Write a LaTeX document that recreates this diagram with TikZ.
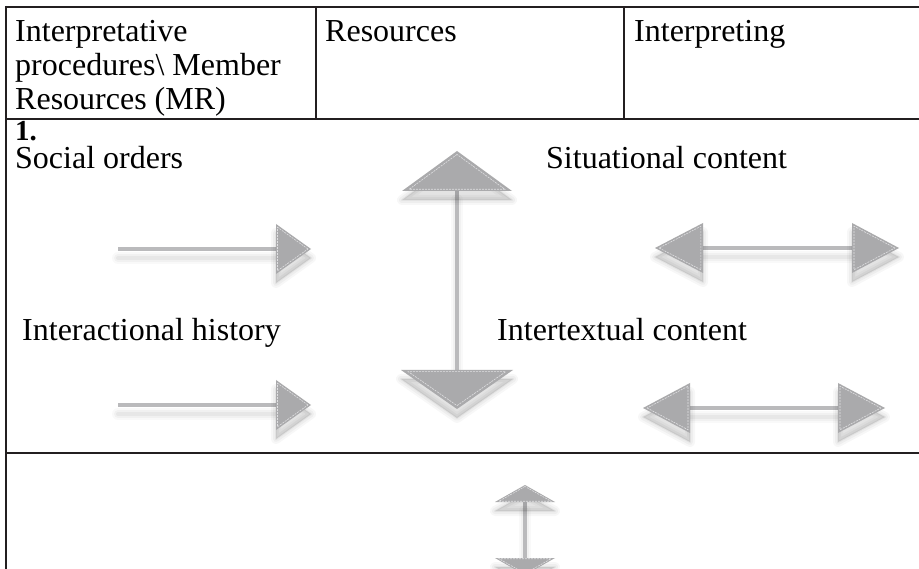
\documentclass[tikz,border=0pt]{standalone}
\usepackage{fontspec}
\setmainfont{Liberation Serif}
\usetikzlibrary{calc}
\definecolor{rulec}{RGB}{35,31,32}
\definecolor{headgray}{RGB}{170,170,172}
\definecolor{shaftgray}{RGB}{186,186,188}
\definecolor{dashgray}{RGB}{224,224,226}
\tikzset{
  rulel/.style={draw=rulec, line width=2.4pt},
  lbl/.style={anchor=base west, inner sep=0pt, text=black, font=\fontsize{32}{36}\selectfont},
  shaftl/.style={draw=shaftgray, line width=4pt},
  shadl/.style={draw=black, line cap=round, line join=round, transform canvas={yshift=-9pt}},
}
\newcommand\ahd[3]{%
  \coordinate (hl) at ($(#2)!#3!90:(#1)$);
  \coordinate (hr) at ($(#2)!#3!-90:(#1)$);
  \coordinate (hc) at ($1/3*(#1)+1/3*(hl)+1/3*(hr)$);
  \foreach \w/\o in {10/0.03,6/0.035,2/0.045}{%
    \filldraw[shadl, fill=black, opacity=\o, line width=\w pt] (#1)--(hl)--(hr)--cycle;}
  \fill[headgray] (#1)--(hl)--(hr)--cycle;
  \draw[dashgray, line width=0.6pt, dash pattern=on 2pt off 1pt]
    ($(#1)!0.13!(hc)$)--($(hl)!0.13!(hc)$)--($(hr)!0.13!(hc)$)--cycle;
}
\newcommand\shft[2]{%
  \foreach \w/\o in {12/0.025,8/0.03,4/0.04}{%
    \draw[shadl, opacity=\o, line width=\w pt] (#1)--(#2);}
  \draw[shaftl] (#1)--(#2);
}
\begin{document}
\begin{tikzpicture}[x=1pt,y=-1pt]
\useasboundingbox (0,0) rectangle (919,569);
\clip (0,0) rectangle (919,569);
\fill[white] (0,0) rectangle (919,569);
% table rules
\draw[rulel] (6,7) -- (925,7);
\draw[rulel] (6,5.8) -- (6,575);
\draw[rulel] (316,7) -- (316,119);
\draw[rulel] (624,7) -- (624,119);
\draw[rulel] (6,119) -- (925,119);
\draw[rulel] (6,453) -- (925,453);
% header texts
\node[lbl] (h1a) at (15,42) {Interpretative};
\node[lbl] (h1b) at (15,76) {procedures\textbackslash{} Member};
\node[lbl] (h1c) at (15,110) {Resources (MR)};
\node[lbl] (h2) at (325,42) {Resources};
\node[lbl] (h3) at (634,42) {Interpreting};
% body texts
\node[lbl, font=\fontsize{29}{33}\selectfont\bfseries] (one) at (15,140.5) {1.};
\node[lbl] (so) at (15,169) {Social orders};
\node[lbl] (sc) at (546,169) {Situational content};
\node[lbl] (ih) at (22,341) {Interactional history};
\node[lbl] (ic) at (497,341) {Intertextual content};
% arrow geometry
\coordinate (r1s) at (118,249); \coordinate (r1b) at (276,249); \coordinate (r1t) at (311,249);
\coordinate (r2s) at (118,405); \coordinate (r2b) at (276,405); \coordinate (r2t) at (311,405);
\coordinate (v1t) at (457,151); \coordinate (v1a) at (457,191);
\coordinate (v1b) at (457,370); \coordinate (v1u) at (457,409);
\coordinate (d1lt) at (655,248); \coordinate (d1lb) at (703,248);
\coordinate (d1rb) at (852,248); \coordinate (d1rt) at (899,248);
\coordinate (d2lt) at (643,408); \coordinate (d2lb) at (690,408);
\coordinate (d2rb) at (838,408); \coordinate (d2rt) at (885,408);
\coordinate (v2t) at (525,485); \coordinate (v2a) at (525,502);
\coordinate (v2b) at (525,558); \coordinate (v2u) at (525,575);
% arrows
\shft{r1s}{r1b} \ahd{r1t}{r1b}{25pt}
\shft{r2s}{r2b} \ahd{r2t}{r2b}{25pt}
\shft{v1a}{v1b} \ahd{v1t}{v1a}{55pt} \ahd{v1u}{v1b}{56pt}
\shft{d1lb}{d1rb} \ahd{d1lt}{d1lb}{25pt} \ahd{d1rt}{d1rb}{25pt}
\shft{d2lb}{d2rb} \ahd{d2lt}{d2lb}{25pt} \ahd{d2rt}{d2rb}{25pt}
\shft{v2a}{v2b} \ahd{v2t}{v2a}{30pt} \ahd{v2u}{v2b}{30pt}
\end{tikzpicture}
\end{document}
